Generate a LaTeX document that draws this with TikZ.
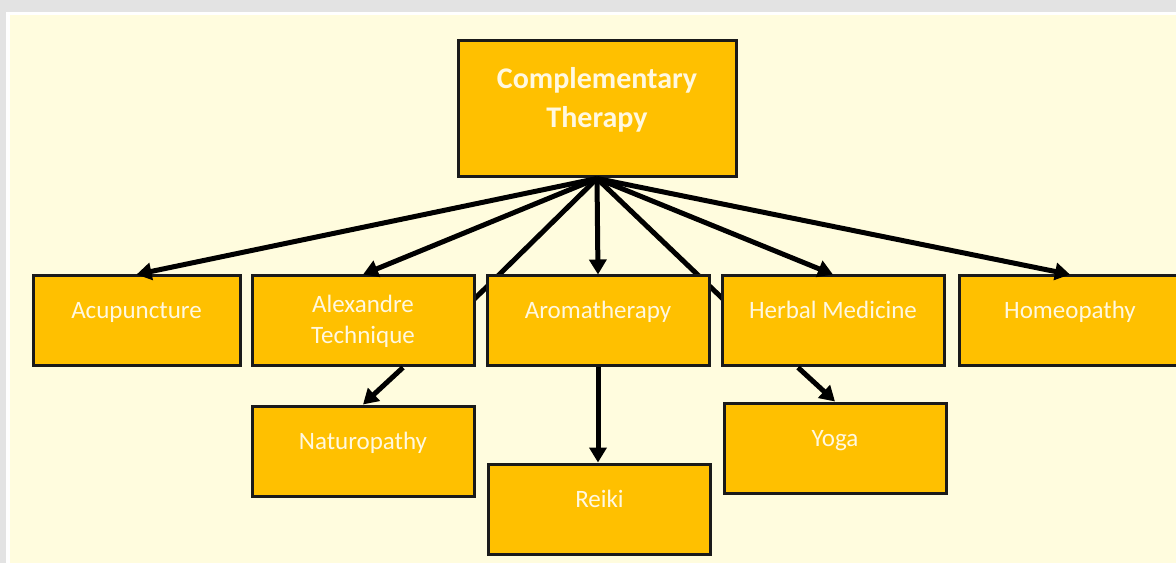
\documentclass[tikz,border=0pt]{standalone}
\usepackage{fontspec}
\setmainfont{Carlito}
\usetikzlibrary{arrows.meta}
\definecolor{gold}{HTML}{FFC000}
\definecolor{paper}{HTML}{FFFCDE}
\definecolor{frame}{HTML}{E3E3E3}
\definecolor{ink}{HTML}{1A1A1A}
\definecolor{label}{HTML}{FFF8E0}

\begin{document}
\begin{tikzpicture}[x=1pt, y=1pt,
    box/.style={draw=ink, line width=3pt, fill=gold, text=label, inner sep=0pt},
    leaf/.style={box, minimum width=222pt, minimum height=90pt, font=\fontsize{25}{31}\selectfont},
    single/.style={text height=17pt, text depth=21pt},
    link/.style={line width=5pt, -{Triangle[length=15pt,width=17pt]}}]
    \useasboundingbox (0,0) rectangle (1176,563);
    \fill[frame] (0,0) rectangle (1176,563);
    \fill[white] (6,0) rectangle (1176,551);
    \fill[paper] (10,0) rectangle (1176,548);

    \node[box, minimum width=278pt, minimum height=136pt, align=center,
        font=\bfseries\fontsize{30}{39}\selectfont] (ct) at (597,454)
        {Complementary\\Therapy\rule[-24pt]{0pt}{24pt}};
    \coordinate (hidl) at (453,243);
    \coordinate (hidr) at (745,243);
    \draw[line width=5pt] (ct.south) -- (hidl) (ct.south) -- (hidr);

    \node[leaf, single, minimum width=207pt] (acu) at (136.5,242) {Acupuncture};
    \node[leaf, align=center] (alex) at (363,242) {Alexandre\\Technique};
    \node[leaf, single] (aroma) at (598,242) {Aromatherapy};
    \node[leaf, single] (herb) at (833,242) {Herbal Medicine};
    \node[leaf, single] (homeo) at (1070,242) {Homeopathy};
    \node[leaf, single] (natur) at (363,112) {Naturopathy};
    \node[leaf, single] (reiki) at (599.5,54) {Reiki};
    \node[leaf, single] (yoga) at (835,115) {Yoga};

    \draw[link] (ct.south) -- (acu.north);
    \draw[link] (ct.south) -- (alex.north);
    \draw[link] (ct.south) -- (aroma.north);
    \draw[link] (ct.south) -- (herb.north);
    \draw[link] (ct.south) -- (homeo.north);
    \draw[link] ([xshift=40pt]alex.south) -- (natur.north);
    \draw[link] (aroma.south) -- (aroma.south |- reiki.north);
    \draw[link] ([xshift=-35pt]herb.south) -- (yoga.north);
\end{tikzpicture}
\end{document}
